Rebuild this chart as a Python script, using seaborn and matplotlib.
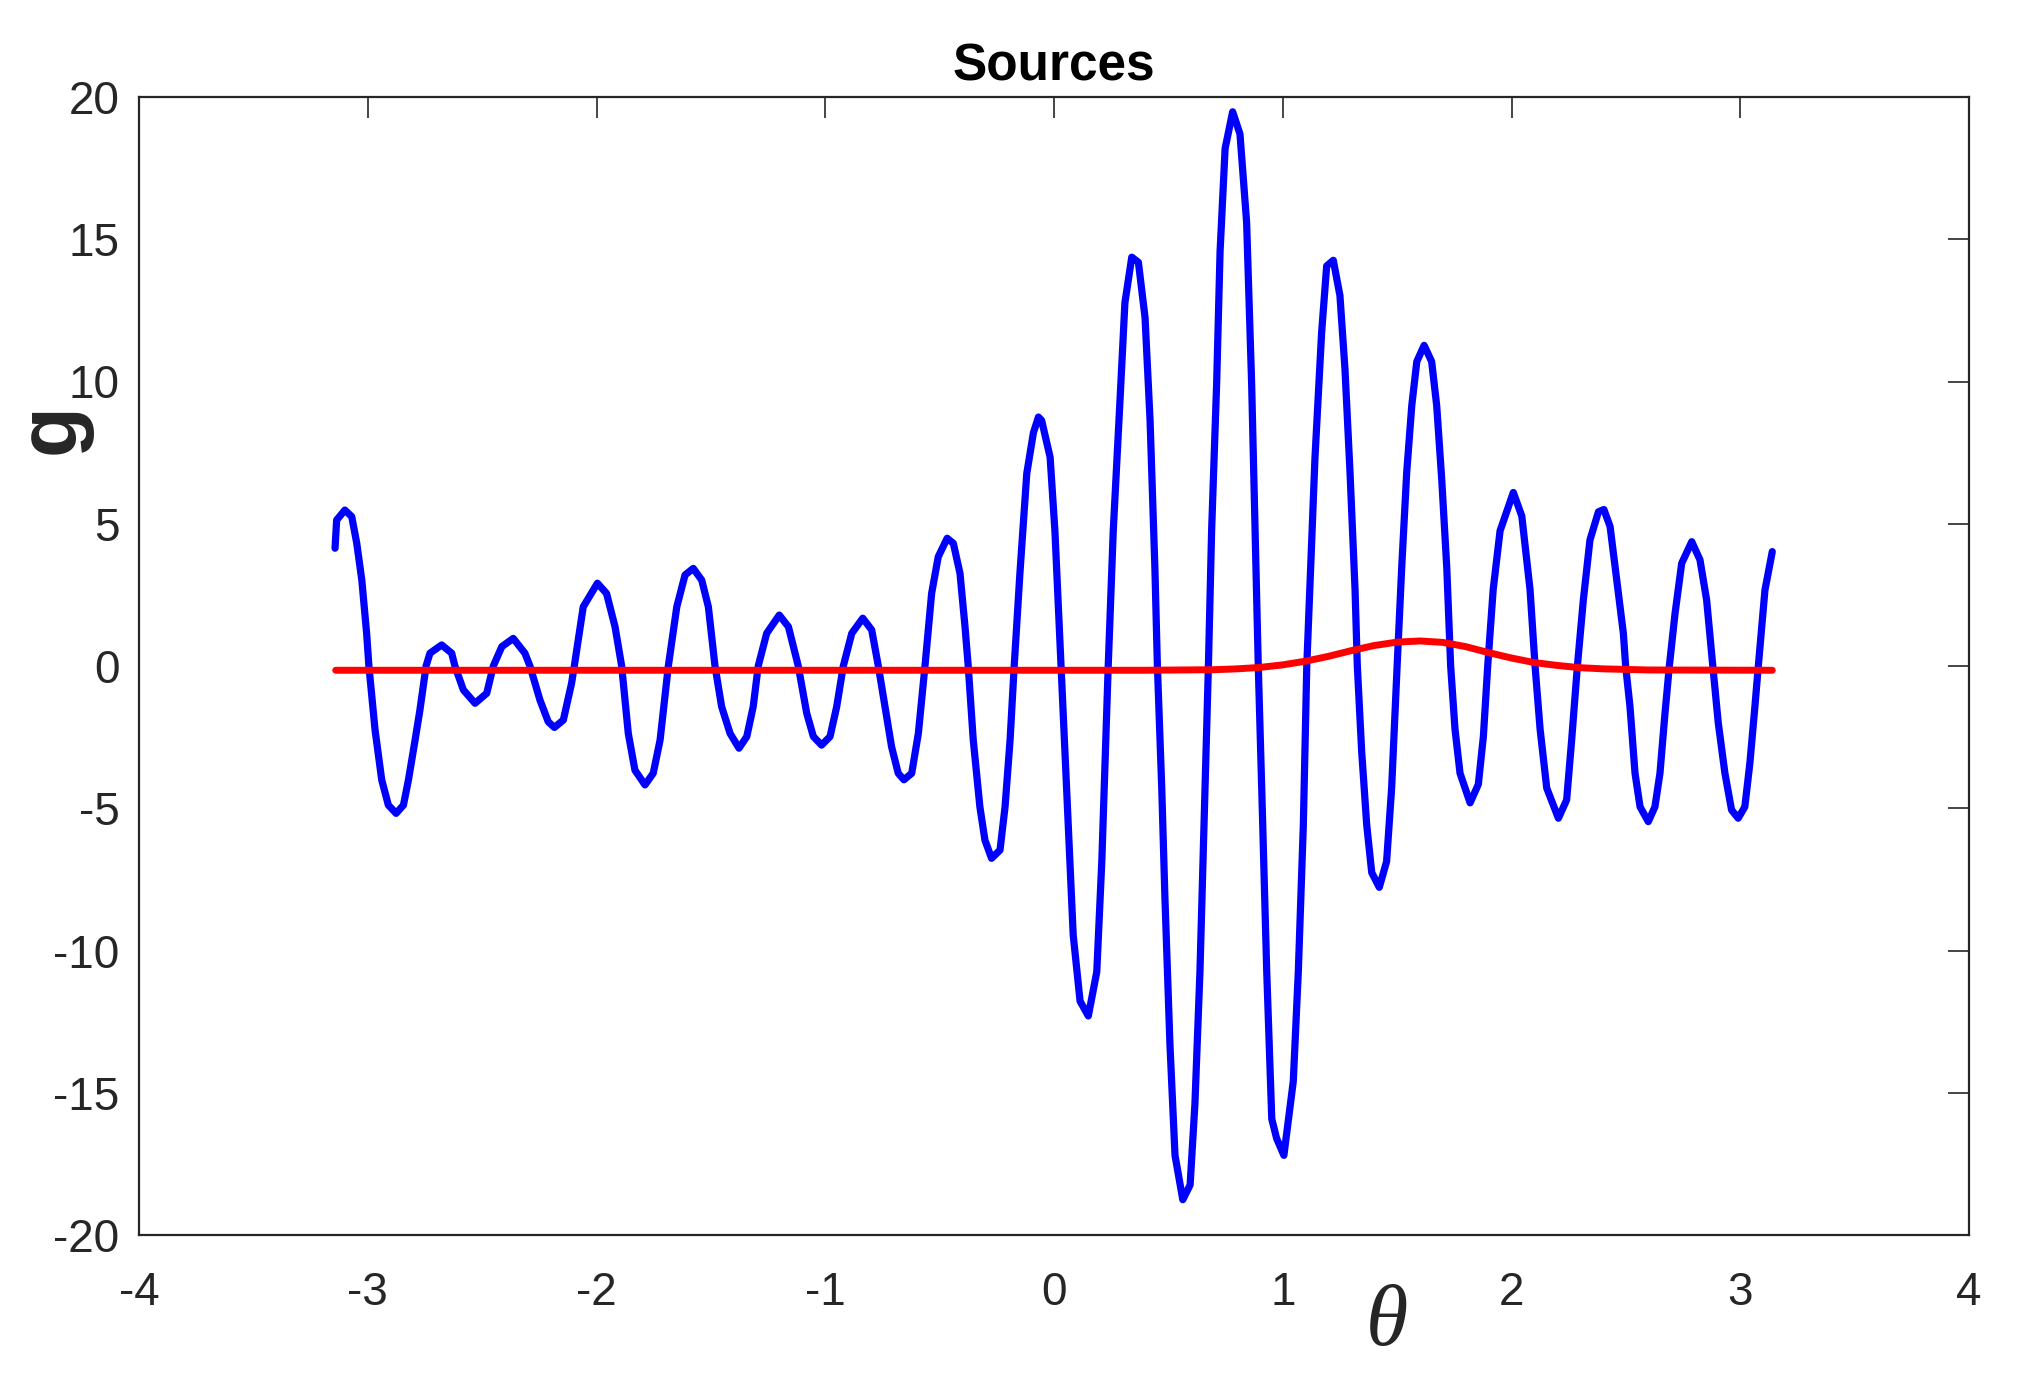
import matplotlib
matplotlib.use("Agg")
import matplotlib.pyplot as plt
import seaborn as sns
import pandas as pd

# ---- data ----
blue_theta = [
    -3.143, -3.136, -3.100, -3.070, -3.048, -3.026, -3.005, -2.995, -2.968, -2.939,
    -2.910, -2.876, -2.844, -2.822, -2.793, -2.772, -2.745, -2.728, -2.677, -2.633,
    -2.619, -2.582, -2.531, -2.480, -2.451, -2.414, -2.364, -2.313, -2.291, -2.247,
    -2.211, -2.184, -2.145, -2.109, -2.097, -2.058, -1.996, -1.956, -1.919, -1.890,
    -1.861, -1.832, -1.788, -1.752, -1.722, -1.686, -1.649, -1.613, -1.577, -1.540,
    -1.511, -1.482, -1.453, -1.416, -1.377, -1.343, -1.315, -1.293, -1.256, -1.201,
    -1.161, -1.118, -1.081, -1.052, -1.016, -0.979, -0.950, -0.921, -0.884, -0.836,
    -0.797, -0.768, -0.739, -0.710, -0.681, -0.656, -0.622, -0.593, -0.564, -0.535,
    -0.506, -0.467, -0.440, -0.411, -0.389, -0.375, -0.353, -0.324, -0.302, -0.273,
    -0.236, -0.214, -0.192, -0.174, -0.149, -0.119, -0.090, -0.068, -0.054, -0.017,
    0.004, 0.026, 0.031, 0.055, 0.084, 0.114, 0.150, 0.187, 0.209, 0.230,
    0.237, 0.259, 0.289, 0.310, 0.340, 0.369, 0.398, 0.420, 0.441, 0.452,
    0.471, 0.485, 0.507, 0.529, 0.563, 0.595, 0.616, 0.638, 0.660, 0.675,
    0.689, 0.711, 0.726, 0.748, 0.781, 0.813, 0.842, 0.864, 0.879, 0.893,
    0.908, 0.930, 0.952, 0.973, 1.005, 1.046, 1.068, 1.090, 1.105, 1.141,
    1.170, 1.192, 1.221, 1.250, 1.272, 1.294, 1.316, 1.326, 1.345, 1.367,
    1.389, 1.422, 1.454, 1.476, 1.500, 1.520, 1.542, 1.564, 1.586, 1.618,
    1.651, 1.673, 1.695, 1.717, 1.734, 1.753, 1.775, 1.819, 1.855, 1.877,
    1.896, 1.920, 1.950, 2.008, 2.045, 2.081, 2.103, 2.125, 2.154, 2.205,
    2.241, 2.263, 2.288, 2.314, 2.343, 2.380, 2.404, 2.431, 2.460, 2.489,
    2.499, 2.518, 2.540, 2.562, 2.598, 2.627, 2.649, 2.671, 2.690, 2.715,
    2.744, 2.788, 2.824, 2.853, 2.880, 2.904, 2.933, 2.962, 2.991, 3.020,
    3.042, 3.064, 3.079, 3.108, 3.140,
]
blue_g = [
    4.14, 5.13, 5.48, 5.25, 4.31, 3.02, 1.16, 0.00, -2.25, -4.00,
    -4.89, -5.18, -4.89, -4.00, -2.60, -1.55, 0.00, 0.45, 0.74, 0.45,
    0.00, -0.84, -1.31, -0.96, 0.00, 0.68, 0.97, 0.45, 0.00, -1.20,
    -1.96, -2.16, -1.90, -0.61, 0.00, 2.08, 2.91, 2.55, 1.38, 0.00,
    -2.37, -3.66, -4.18, -3.77, -2.60, 0.00, 2.08, 3.20, 3.43, 3.02,
    2.08, 0.00, -1.43, -2.37, -2.89, -2.48, -1.43, 0.00, 1.15, 1.79,
    1.38, 0.00, -1.66, -2.48, -2.78, -2.48, -1.43, 0.00, 1.15, 1.68,
    1.27, 0.00, -1.43, -2.84, -3.77, -4.00, -3.77, -2.37, 0.00, 2.55,
    3.84, 4.49, 4.31, 3.26, 1.38, 0.00, -2.60, -4.95, -6.12, -6.76,
    -6.47, -4.95, -2.60, 0.00, 3.26, 6.77, 8.20, 8.75, 8.63, 7.34,
    4.75, 0.88, 0.00, -4.29, -9.46, -11.78, -12.30, -10.75, -6.87, -1.71,
    0.00, 4.75, 9.41, 12.77, 14.37, 14.19, 12.25, 8.63, 3.46, 0.00,
    -4.29, -8.17, -13.33, -17.20, -18.76, -18.24, -15.40, -10.75, -4.29, 0.00,
    4.75, 9.92, 14.57, 18.19, 19.48, 18.70, 15.60, 9.92, 4.75, 0.00,
    -4.29, -10.75, -15.92, -16.60, -17.20, -14.60, -10.75, -5.58, 0.00, 7.34,
    11.73, 14.06, 14.26, 13.02, 10.44, 6.82, 2.69, 0.00, -3.00, -5.58,
    -7.26, -7.78, -6.87, -4.29, 0.00, 3.46, 6.82, 9.15, 10.70, 11.27,
    10.70, 9.15, 6.56, 3.46, 0.00, -2.22, -3.77, -4.81, -4.16, -2.48,
    0.00, 2.69, 4.75, 6.10, 5.27, 2.69, 0.00, -2.22, -4.29, -5.35,
    -4.71, -2.60, 0.00, 2.32, 4.43, 5.42, 5.50, 4.90, 3.02, 1.15,
    0.00, -1.43, -3.77, -4.95, -5.47, -4.95, -3.77, -1.66, 0.00, 1.85,
    3.61, 4.37, 3.73, 2.32, 0.00, -2.01, -3.77, -5.06, -5.35, -4.95,
    -3.42, -1.43, 0.00, 2.67, 4.02,
]

red_theta = [-3.14, 0.40, 0.70, 0.80, 0.90, 1.00, 1.10, 1.20, 1.30, 1.40, 1.50,
             1.60, 1.70, 1.80, 1.90, 2.00, 2.10, 2.20, 2.30, 2.40, 2.60, 3.14]
red_g = [-0.15, -0.15, -0.13, -0.10, -0.05, 0.04, 0.17, 0.34, 0.54, 0.72, 0.84,
         0.88, 0.83, 0.68, 0.47, 0.28, 0.12, 0.02, -0.06, -0.10, -0.14, -0.15]

xticks = [-4, -3, -2, -1, 0, 1, 2, 3, 4]
yticks = [-20, -15, -10, -5, 0, 5, 10, 15, 20]

title = "Sources"
xlabel = "θ"
ylabel = "g"

# ---- styling ----
sns.set_theme(style="white")
plt.rcParams["font.family"] = ["Liberation Sans", "DejaVu Sans"]
text_color = "#262626"

fig = plt.figure(figsize=(2032 / 200, 1398 / 200), dpi=200)
ax = fig.add_axes([139 / 2032, 1 - 1235 / 1398, 1830 / 2032, 1138 / 1398])

blue_df = pd.DataFrame({"theta": blue_theta, "g": blue_g})
red_df = pd.DataFrame({"theta": red_theta, "g": red_g})

sns.lineplot(data=blue_df, x="theta", y="g", ax=ax, color=(0, 0, 1),
             linewidth=2.6, estimator=None, sort=False)
sns.lineplot(data=red_df, x="theta", y="g", ax=ax, color=(1, 0, 0),
             linewidth=2.5, estimator=None, sort=False)

ax.set_xlim(-4, 4)
ax.set_ylim(-20, 20)
ax.set_xticks(xticks)
ax.set_yticks(yticks)
ax.set_xticklabels([str(t) for t in xticks])
ax.set_yticklabels([str(t) for t in yticks])

for s in ax.spines.values():
    s.set_visible(True)
    s.set_color(text_color)
    s.set_linewidth(0.8)

ax.tick_params(axis="both", which="major", direction="in", length=7.5, width=0.6,
               colors=text_color, labelsize=16.5, top=True, right=True,
               labelcolor=text_color)
ax.tick_params(axis="x", pad=13)
ax.tick_params(axis="y", pad=7)

ax.set_title(title, fontsize=18.5, fontweight="bold", color="black", pad=6)
ax.set_xlabel(xlabel, fontsize=31, style="italic",
              family=["Liberation Serif", "DejaVu Serif"], color=text_color,
              va="center", ha="center")
ax.xaxis.set_label_coords(0.682, -0.078)
ax.set_ylabel(ylabel, fontsize=30, fontweight="bold", color=text_color,
              va="center", ha="center")
ax.yaxis.set_label_coords(-0.047, 0.709)

fig.savefig("out.png", dpi=200, facecolor="white")
